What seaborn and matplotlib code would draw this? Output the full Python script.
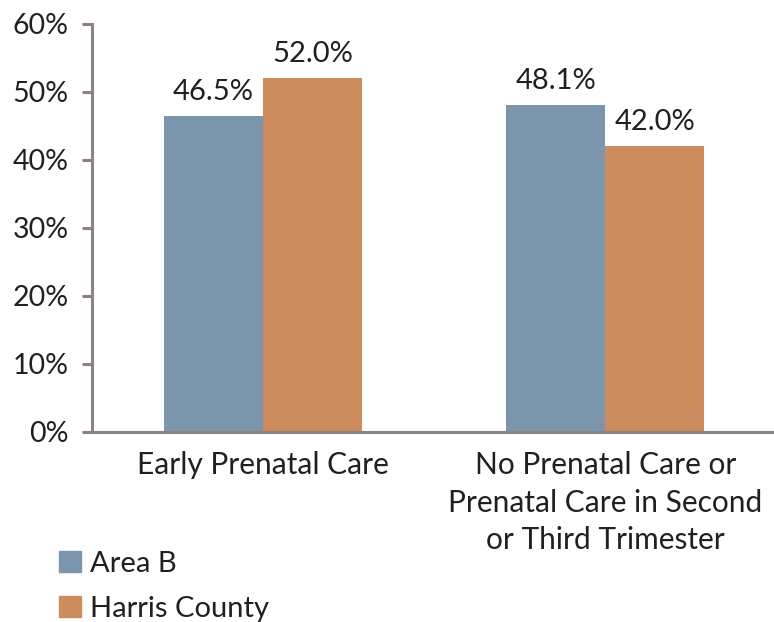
import matplotlib
matplotlib.use("Agg")
import matplotlib.pyplot as plt
import matplotlib.ticker as mticker
import pandas as pd
import seaborn as sns

categories = ["Early Prenatal Care",
              "No Prenatal Care or\nPrenatal Care in Second\nor Third Trimester"]
groups = ["Area B", "Harris County"]
area_b = [46.5, 48.1]
harris = [52.0, 42.0]
colors = ["#7b95ac", "#cd8c5d"]

sns.set_style("white")
plt.rcParams["font.family"] = ["Lato", "DejaVu Sans"]
text_color = "#231f20"
axis_color = "#8c8282"

df = pd.DataFrame({
    "category": categories * 2,
    "group": [groups[0]] * 2 + [groups[1]] * 2,
    "value": area_b + harris,
})

fig = plt.figure(figsize=(7.74, 6.22), dpi=100)
ax = fig.add_axes([0.119, 0.3055, 0.884, 0.656])

sns.barplot(data=df, x="category", y="value", hue="group", palette=colors,
            width=0.58, gap=0, saturation=1, linewidth=0, ax=ax, legend=False)

for cont in ax.containers:
    ax.bar_label(cont, fmt="%.1f%%", padding=8, fontsize=21, color=text_color)

ax.set_ylim(0, 60)
ax.set_xlim(-0.5, 1.5)
ax.yaxis.set_major_locator(mticker.MultipleLocator(10))
ax.yaxis.set_major_formatter(mticker.FuncFormatter(lambda v, p: f"{v:.0f}%"))
ax.set_xlabel("")
ax.set_ylabel("")

# boundaries between categories as ticks, labels in the middle
ax.set_xticks([-0.5, 0.5, 1.5])
ax.set_xticklabels(["", "", ""])
ax.set_xticks([0, 1], minor=True)
ax.set_xticklabels(categories, minor=True, fontsize=21.5, color=text_color,
                   linespacing=1.4)
ax.tick_params(axis="x", which="minor", length=0, pad=14)
ax.tick_params(axis="x", which="major", length=9, width=2.2, color=axis_color,
               direction="out")
ax.tick_params(axis="y", length=7, width=2.2, color=axis_color, labelsize=20.5,
               labelcolor=text_color, pad=10, left=True)

for s in ["top", "right"]:
    ax.spines[s].set_visible(False)
for s in ["left", "bottom"]:
    ax.spines[s].set_color(axis_color)
    ax.spines[s].set_linewidth(2.2)

handles = [plt.Rectangle((0, 0), 1, 1, color=c) for c in colors]
fig.legend(handles, groups, loc="lower left", bbox_to_anchor=(0.042, -0.042),
           frameon=False, fontsize=21, handlelength=0.75, handleheight=0.75,
           handletextpad=0.33, labelspacing=0.65, labelcolor=text_color)

fig.savefig("out.png", dpi=100)
